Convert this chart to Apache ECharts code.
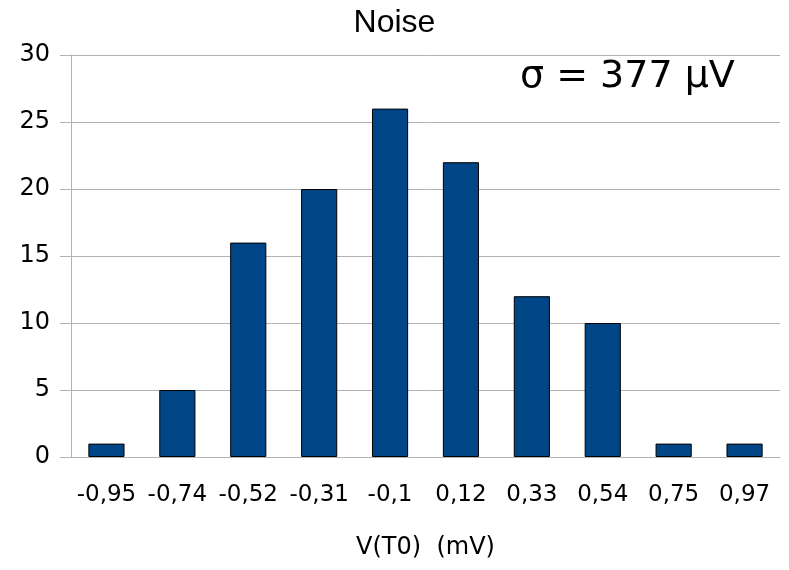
<!DOCTYPE html>
<html>
<head>
<meta charset="utf-8">
<script src="https://cdn.jsdelivr.net/npm/echarts@6/dist/echarts.min.js"></script>
<style>
  body { margin: 0; background: #fff; }
  #main { width: 789px; height: 570px; }
</style>
</head>
<body>
<div id="main"></div>
<script type="text/javascript">
    var categories = ['-0,95', '-0,74', '-0,52', '-0,31', '-0,1', '0,12', '0,33', '0,54', '0,75', '0,97'];
    var counts = [1, 5, 16, 20, 26, 22, 12, 10, 1, 1];
    var yTicks = [0, 5, 10, 15, 20, 25, 30];
    var sigmaLabel = 'σ = 377 µV';

    var font = 'Liberation Sans, Arial, sans-serif';
    var wideFont = 'DejaVu Sans, sans-serif';
    var gridColor = '#b3b3b3';

    var myChart = echarts.init(document.getElementById('main'), null, { renderer: 'canvas' });
    var option = {
        backgroundColor: '#fff',
        animation: false,
        title: {
            text: 'Noise',
            left: 'center',
            top: 2,
            textStyle: { fontFamily: font, fontSize: 32, fontWeight: 'normal', color: '#000' }
        },
        graphic: [{
            type: 'text',
            left: 520,
            top: 58,
            style: { text: sigmaLabel, font: '38px ' + wideFont, fill: '#000' }
        }],
        grid: { left: 71, right: 9, top: 55, bottom: 113 },
        xAxis: {
            type: 'category',
            data: categories,
            name: 'V(T0)  (mV)',
            nameLocation: 'middle',
            nameGap: 79,
            nameTextStyle: { fontFamily: wideFont, fontSize: 24, color: '#000' },
            axisLine: { lineStyle: { color: gridColor, width: 1 } },
            axisTick: { alignWithLabel: true, length: 10, lineStyle: { color: gridColor } },
            axisLabel: { fontFamily: wideFont, fontSize: 23, color: '#000', margin: 27, interval: 0 }
        },
        yAxis: {
            type: 'value',
            min: yTicks[0],
            max: yTicks[yTicks.length - 1],
            interval: 5,
            axisLine: { show: true, lineStyle: { color: gridColor, width: 1 } },
            axisTick: { show: true, length: 11, lineStyle: { color: gridColor } },
            splitLine: { lineStyle: { color: gridColor, width: 1 } },
            axisLabel: { fontFamily: wideFont, fontSize: 24, color: '#000', margin: 21, padding: [8, 0, 0, 0] }
        },
        series: [{
            type: 'bar',
            data: counts,
            barWidth: '51%',
            itemStyle: { color: '#004586', borderColor: '#000', borderWidth: 1 }
        }]
    };
    myChart.setOption(option);
</script>
</body>
</html>
